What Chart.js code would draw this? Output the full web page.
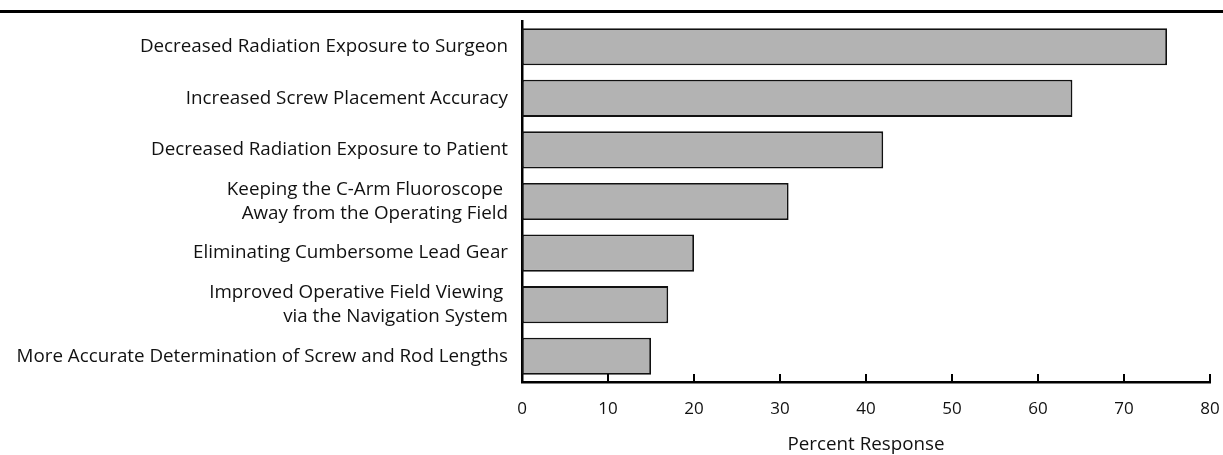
<!DOCTYPE html>
<html>
<head>
<meta charset="utf-8">
<script src="https://cdn.jsdelivr.net/npm/chart.js@4"></script>
<style>
  html, body { margin: 0; padding: 0; background: #fff; }
  #wrap { position: relative; width: 1223px; height: 455px; }
  #rule { position: absolute; left: 0; top: 10px; width: 1223px; height: 0; border-top: 3px solid #000; }
  canvas { position: absolute; left: 0; top: 0; }
</style>
</head>
<body>
<div id="wrap">
  <div id="rule"></div>
  <canvas id="grafico" width="1223" height="455"></canvas>
</div>
<script>
const categorias = [
  "Decreased Radiation Exposure to Surgeon",
  "Increased Screw Placement Accuracy",
  "Decreased Radiation Exposure to Patient",
  ["Keeping the C-Arm Fluoroscope ", "Away from the Operating Field"],
  "Eliminating Cumbersome Lead Gear",
  ["Improved Operative Field Viewing ", "via the Navigation System"],
  "More Accurate Determination of Screw and Rod Lengths"
];
const porcentajes = [75, 64, 42, 31, 20, 17, 15];
const ticksX = [0, 10, 20, 30, 40, 50, 60, 70, 80];

const fuente = { family: "'Open Sans', sans-serif", size: 18.8, lineHeight: 1.25 };
const fuenteTitulo = { family: "'Open Sans', sans-serif", size: 18.8, lineHeight: 1 };
const fuenteTicks = { family: "'Open Sans', sans-serif", size: 17 };

// marcas del eje x hacia dentro
const marcasDentro = {
  id: "marcasDentro",
  afterDraw(chart) {
    const x = chart.scales.x;
    const ctx = chart.ctx;
    const fondo = chart.chartArea.bottom;
    ctx.save();
    ctx.strokeStyle = "#000";
    ctx.lineWidth = 2;
    for (let v of ticksX) {
      let px = x.getPixelForValue(v);
      ctx.beginPath();
      ctx.moveTo(px, fondo - 8);
      ctx.lineTo(px, fondo);
      ctx.stroke();
    }
    ctx.restore();
  }
};

new Chart(document.getElementById("grafico").getContext("2d"), {
  type: "bar",
  data: {
    labels: categorias,
    datasets: [{
      label: "Percent Response",
      data: porcentajes,
      backgroundColor: "#b3b3b3",
      borderColor: "#111",
      borderWidth: 1.8,
      borderSkipped: false,
      barPercentage: 0.72,
      categoryPercentage: 1
    }]
  },
  options: {
    indexAxis: "y",
    responsive: false,
    animation: false,
    layout: { padding: { top: 21, right: 13, left: 0, bottom: 0 } },
    plugins: { legend: { display: false }, tooltip: { enabled: false } },
    scales: {
      x: {
        min: 0,
        max: 80,
        afterFit(s) { s.height = 73; s.paddingLeft = 0; s.paddingRight = 0; },
        afterBuildTicks(s) { s.ticks = ticksX.map(v => ({ value: v })); },
        grid: { display: false, drawTicks: false },
        border: { display: true, color: "#000", width: 2.5 },
        ticks: { color: "#111", font: fuenteTicks, padding: 17 },
        title: {
          display: true,
          text: "Percent Response",
          color: "#111",
          font: fuenteTitulo,
          padding: { top: 4, bottom: 1 }
        }
      },
      y: {
        afterFit(s) { s.width = 522; s.paddingTop = 0; s.paddingBottom = 0; },
        grid: { display: false, drawTicks: false },
        border: { display: true, color: "#000", width: 2.5 },
        ticks: { color: "#111", font: fuente, padding: 14 }
      }
    }
  },
  plugins: [marcasDentro]
});
</script>
</body>
</html>
